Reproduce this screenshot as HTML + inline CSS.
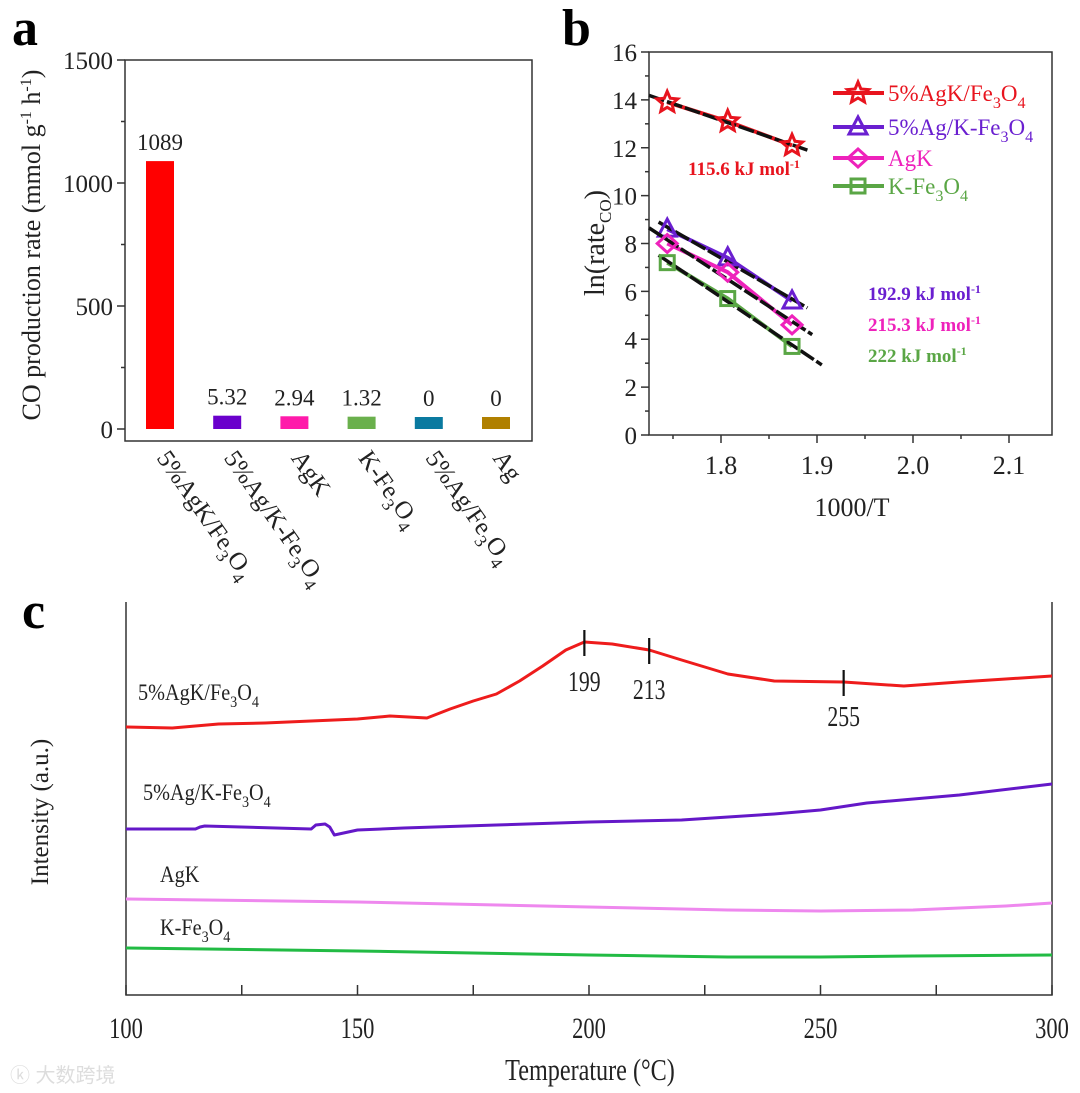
<!DOCTYPE html>
<html><head><meta charset="utf-8"><style>
body{margin:0;background:#fff}
svg{display:block;font-family:"Liberation Serif",serif}
</style></head><body>
<svg id="s" width="1080" height="1093" viewBox="0 0 1080 1093"></svg>
<script>
// ---- Panel a data ----
const catsA = ["5%AgK/Fe3O4","5%Ag/K-Fe3O4","AgK","K-Fe3O4","5%Ag/Fe3O4","Ag"];
const valsA = [1089,5.32,2.94,1.32,0,0];
const labelsA = ["1089","5.32","2.94","1.32","0","0"];
const colorsA = ["#ff0000","#6a00cc","#ff1aaa","#6ab04c","#0a7aa0","#b08000"];
const ticksA = [0,500,1000,1500];
// ---- Panel b data ----
const namesB = ["5%AgK/Fe3O4","5%Ag/K-Fe3O4","AgK","K-Fe3O4"];
const xB = [1.744,1.807,1.874];
const yRed = [13.9,13.1,12.1];
const yPurple = [8.6,7.4,5.6];
const yPink = [8.0,6.8,4.6];
const yGreen = [7.2,5.7,3.7];
const fitRange = [[1.725,1.89],[1.735,1.89],[1.725,1.895],[1.735,1.905]];
const eaLabels = ["115.6","192.9","215.3","222"];
const ticksBY = [0,2,4,6,8,10,12,14,16];
const ticksBX = [1.8,1.9,2.0,2.1];
// ---- Panel c data ----
const tRed = [100,110,120,130,140,150,157,165,170,175,180,185,190,195,199,205,213,220,230,240,255,268,280,290,300];
const iRed = [271,270,274,275,277,279,282,280,289,297,304,317,332,348,356,354,348,338,324,317,316,312,316,319,322];
const tPur = [100,115,116,117,140,141,143,144,145,150,160,180,200,220,240,250,260,280,300];
const iPur = [169,169,171,172,169,173,174,171,163,168,170,173,176,178,184,188,195,203,214];
const tPink = [100,150,200,230,250,270,290,300];
const iPink = [99,96,91,88,87,88,92,95];
const tGreen = [100,150,200,230,250,270,300];
const iGreen = [50,47,43,41,41,42,43];
const peaks = [199,213,255];
const peakI = [356,348,316];
const ticksC = [100,150,200,250,300];

const S = document.getElementById('s');
const NS = "http://www.w3.org/2000/svg";
function mk(tag, at, txt){const e=document.createElementNS(NS,tag);for(const k in at)e.setAttribute(k,at[k]);if(txt!==undefined)e.textContent=txt;S.appendChild(e);return e;}
function chem(x,y,str,at,nm,fs){
  const t=mk('text',Object.assign({x:x,y:y,'font-size':fs},at));
  
  
  let shifted=false, prev='';
  for(const ch of str){
    const isSub=/\d/.test(ch) && /[a-zA-Z]/.test(prev);
    const s=document.createElementNS(NS,'tspan');
    if(isSub && !shifted){s.setAttribute('dy',fs*0.3);s.setAttribute('font-size',fs*0.7);shifted=true;}
    else if(isSub){s.setAttribute('font-size',fs*0.7);}
    else if(shifted){s.setAttribute('dy',-fs*0.3);shifted=false;}
    s.textContent=ch;t.appendChild(s);prev=ch;
  }
  return t;
}

// ===== Panel a =====
const aL=125,aR=532,aT=60,aB=441;
const ya=v=>429-(v/1500)*369;
const xa=i=>160+i*67.2;
let t=mk('text',{x:12,y:45,'font-size':52,'font-weight':'bold'},'a');

let r=mk('rect',{x:aL,y:aT,width:aR-aL,height:aB-aT,fill:'none',stroke:'#333','stroke-width':1.5});

for(let v=0;v<=1500;v+=250){const l=mk('line',{x1:aL-(v%500?4:8),x2:aL,y1:ya(v),y2:ya(v),stroke:'#333','stroke-width':1.5});
}
ticksA.forEach(v=>{const e=mk('text',{x:aL-12,y:ya(v)+9,'font-size':25,'text-anchor':'end',fill:'#222'},v);
});
t=mk('text',{transform:'translate(40,245) rotate(-90)','font-size':26,'text-anchor':'middle',fill:'#222'});

t.innerHTML='CO production rate (mmol g<tspan dy="-9" font-size="16">-1</tspan><tspan dy="9"> h</tspan><tspan dy="-9" font-size="16">-1</tspan><tspan dy="9">)</tspan>';
catsA.forEach((c,i)=>{
  const y0=ya(0), y1=ya(Math.max(valsA[i],0))-(valsA[i]<50?12:0);
  const b=mk('rect',{x:xa(i)-14,y:Math.min(y1,y0-12),width:28,height:Math.max(y0-y1,12),fill:colorsA[i]});
  
  const lb=mk('text',{x:xa(i),y:Math.min(y1,y0-12)-11,'font-size':23,'text-anchor':'middle',fill:'#222'},labelsA[i]);
  
  chem(0,0,c,{fill:'#222',transform:`translate(${xa(i)-4},${458}) rotate(55)`},'x-category-label',25);
});

// ===== Panel b =====
const bL=649,bR=1052,bT=52,bB=435;
const xb=v=>721+(v-1.8)*960;
const yb=v=>bB-v*(bB-bT)/16;
t=mk('text',{x:562,y:45,'font-size':52,'font-weight':'bold'},'b');

r=mk('rect',{x:bL,y:bT,width:bR-bL,height:bB-bT,fill:'none',stroke:'#333','stroke-width':1.5});

for(let v=0;v<=16;v++){const l=mk('line',{x1:bL-(v%2?4:8),x2:bL,y1:yb(v),y2:yb(v),stroke:'#333','stroke-width':1.5});
}
ticksBY.forEach(v=>{const e=mk('text',{x:bL-12,y:yb(v)+9,'font-size':25,'text-anchor':'end',fill:'#222'},v);
});
for(let k=0;k<8;k++){const v=1.75+k*0.05;const l=mk('line',{x1:xb(v),x2:xb(v),y1:bB,y2:bB+(k%2?8:4),stroke:'#333','stroke-width':1.5});
}
ticksBX.forEach(v=>{const e=mk('text',{x:xb(v),y:474,'font-size':26,'text-anchor':'middle',fill:'#222'},v.toFixed(1));
});
t=mk('text',{x:852,y:516,'font-size':26,'text-anchor':'middle',fill:'#222'},'1000/T');

t=mk('text',{transform:'translate(604,243) rotate(-90)','font-size':28,'text-anchor':'middle',fill:'#222'});

t.innerHTML='ln(rate<tspan dy="7" font-size="17">CO</tspan><tspan dy="-7">)</tspan>';
const seriesB=[yRed,yPurple,yPink,yGreen];
const colB=["#e8141e","#6a1fd0","#ee22bb","#5aa645"];
const markB=["star","tri","dia","sq"];
function marker(kind,x,y,c,nm){let e;
  if(kind==='star'){let p=[];for(let k=0;k<10;k++){const rr=k%2?5:11,a=-Math.PI/2+k*Math.PI/5;p.push((x+rr*Math.cos(a)).toFixed(1)+','+(y+rr*Math.sin(a)).toFixed(1));}
    e=mk('polygon',{points:p.join(' '),fill:'none',stroke:c,'stroke-width':3});}
  else if(kind==='tri') e=mk('polygon',{points:`${x},${y-10} ${x+9},${y+7} ${x-9},${y+7}`,fill:'none',stroke:c,'stroke-width':3});
  else if(kind==='dia') e=mk('polygon',{points:`${x},${y-9} ${x+10},${y} ${x},${y+9} ${x-10},${y}`,fill:'none',stroke:c,'stroke-width':3});
  else e=mk('rect',{x:x-7,y:y-7,width:14,height:14,fill:'none',stroke:c,'stroke-width':3});
  }
seriesB.forEach((ys,si)=>{
  const pts=xB.map((x,i)=>xb(x)+','+yb(ys[i])).join(' ');
  const pl=mk('polyline',{points:pts,fill:'none',stroke:colB[si],'stroke-width':4});
  
  const n=xB.length,mx=xB.reduce((a,b)=>a+b)/n,my=ys.reduce((a,b)=>a+b)/n;
  let sxy=0,sxx=0;xB.forEach((x,i)=>{sxy+=(x-mx)*(ys[i]-my);sxx+=(x-mx)**2;});
  const m=sxy/sxx,c0=my-m*mx,[x0,x1]=fitRange[si];
  const fl=mk('line',{x1:xb(x0),y1:yb(m*x0+c0),x2:xb(x1),y2:yb(m*x1+c0),stroke:'#111','stroke-width':3.5,'stroke-dasharray':'16 3'});
  
  xB.forEach((x,i)=>marker(markB[si],xb(x),yb(ys[i]),colB[si],'point-'+si));
});
namesB.forEach((n,i)=>{const y=[93,127,158,186][i];
  const l=mk('line',{x1:833,x2:884,y1:y,y2:y,stroke:colB[i],'stroke-width':4});
  
  marker(markB[i],858,y,colB[i],'legend-marker');
  chem(888,y+8,n,{fill:colB[i]},'legend-entry',23);
});
[[688,175],[868,300],[868,331],[868,362]].forEach((p,i)=>{
  const e=mk('text',{x:p[0],y:p[1],'font-size':19,'font-weight':'bold',fill:colB[i]});
  
  e.innerHTML=eaLabels[i]+' kJ mol<tspan dy="-7" font-size="12">-1</tspan>';
});

// ===== Panel c =====
const cL=126,cR=1052,cT=602,cB=995;
const xc=v=>cL+(v-100)/200*(cR-cL);
const yc=v=>998-v;
t=mk('text',{x:22,y:628,'font-size':52,'font-weight':'bold'},'c');

let ax=mk('polyline',{points:`${cL},${cT} ${cL},${cB} ${cR},${cB} ${cR},${cT}`,fill:'none',stroke:'#333','stroke-width':1.5});

for(let v=100;v<=300;v+=25){const l=mk('line',{x1:xc(v),x2:xc(v),y1:cB,y2:cB-10,stroke:'#333','stroke-width':1.5});
}
ticksC.forEach(v=>{const e=mk('text',{x:xc(v),y:1038,'font-size':30,'text-anchor':'middle',fill:'#222',transform:`translate(${xc(v)},0) scale(0.75,1) translate(${-xc(v)},0)`},v);
});
t=mk('text',{x:590,y:1080,'font-size':31,'text-anchor':'middle',fill:'#222',transform:'translate(590,0) scale(0.78,1) translate(-590,0)'},'Temperature (°C)');

t=mk('text',{transform:'translate(48,812) rotate(-90)','font-size':25,'text-anchor':'middle',fill:'#222'},'Intensity (a.u.)');

[[tRed,iRed,'#ee1c1c'],[tPur,iPur,'#6418c8'],[tPink,iPink,'#ee88ee'],[tGreen,iGreen,'#22bb44']].forEach((s,i)=>{
  const p=mk('polyline',{points:s[0].map((x,k)=>xc(x)+','+yc(s[1][k])).join(' '),fill:'none',stroke:s[2],'stroke-width':3,'stroke-linejoin':'round'});
  
});
[['5%AgK/Fe3O4',138,700],['5%Ag/K-Fe3O4',143,800],['AgK',160,882],['K-Fe3O4',160,935]].forEach(a=>{
  chem(a[1],a[2],a[0],{fill:'#222',transform:`translate(${a[1]},0) scale(0.88,1) translate(${-a[1]},0)`},'curve-label',23);
});
peaks.forEach((p,i)=>{const y=yc(peakI[i]);
  const l=mk('line',{x1:xc(p),x2:xc(p),y1:y-12,y2:y+14,stroke:'#111','stroke-width':2.2});
  
  const e=mk('text',{x:xc(p),y:y+(i===2?44:49),'font-size':29,'text-anchor':'middle',fill:'#222',transform:`translate(${xc(p)},0) scale(0.75,1) translate(${-xc(p)},0)`},p);
  
});
t=mk('text',{x:10,y:1082,'font-size':20,fill:'#ddd',"font-family":'"Liberation Sans","Noto Sans CJK SC",sans-serif'},'ⓚ 大数跨境');

</script>
</body></html>
